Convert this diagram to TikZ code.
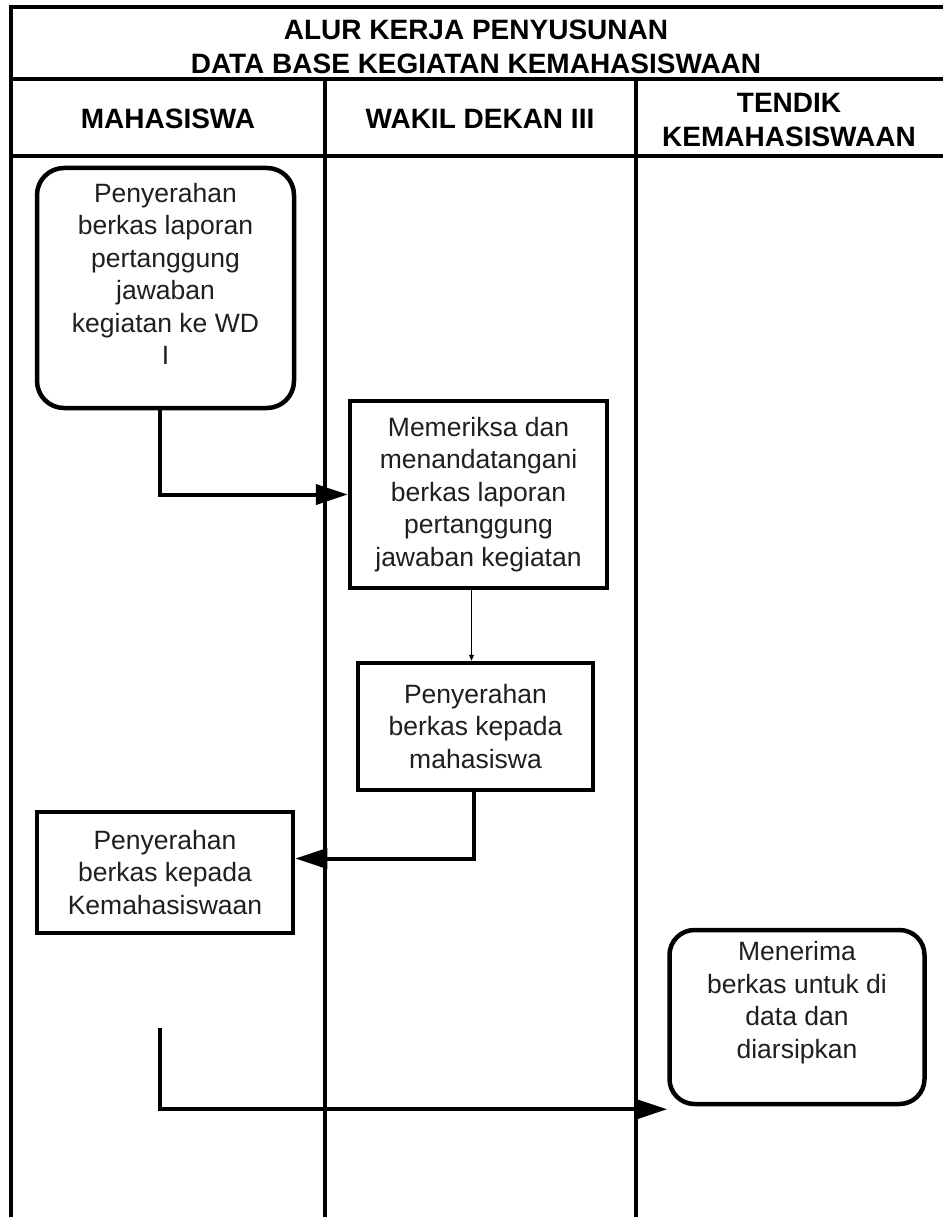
\documentclass[tikz,border=0pt]{standalone}
\usepackage{fontspec}
\setmainfont{Liberation Sans}
\usetikzlibrary{arrows.meta}
\begin{document}
\begin{tikzpicture}[x=1pt,y=-1pt,
  frame/.style={line width=4.5pt},
  boxtext/.style={align=center, font=\fontsize{26.5}{32.5}\selectfont, text=black!88},
  head/.style={align=center, font=\fontsize{28}{34}\selectfont\bfseries},
  sbox/.style={draw, line width=4.5pt, inner sep=0pt, boxtext},
  rbox/.style={draw, line width=4.5pt, inner sep=0pt, rounded corners=27pt},
  conn/.style={line width=4pt, -{Triangle[length=32pt,width=20pt]}},
  thinconn/.style={line width=1pt, -{Triangle[length=6pt,width=5pt]}}
]
\useasboundingbox (0,0) rectangle (942,1217);
\fill[white] (0,0) rectangle (942,1217);
% frame
\draw[frame] (11,7) -- (945,7);
\draw[frame] (11,79) -- (945,79);
\draw[frame] (11,156) -- (945,156);
\draw[frame] (11,5) -- (11,1220);
\draw[frame] (325,79) -- (325,1220);
\draw[frame] (636,79) -- (636,1220);
% headings
\node[head] (title) at (476,46.5) {ALUR KERJA PENYUSUNAN\\DATA BASE KEGIATAN KEMAHASISWAAN};
\node[head] (h1) at (168,119) {MAHASISWA};
\node[head] (h2) at (480,119) {WAKIL DEKAN III};
\node[head] (h3) at (789,120.5) {TENDIK\\KEMAHASISWAAN};
% boxes
\node[rbox, minimum width=257pt, minimum height=240pt] (b1) at (165.5,288) {};
\node[boxtext] (b1t) at ([yshift=14pt]b1.center) {Penyerahan\\berkas laporan\\pertanggung\\jawaban\\kegiatan ke WD\\I};
\node[sbox, minimum width=257pt, minimum height=187pt] (b2) at (478.5,494.5) {Memeriksa dan\\menandatangani\\berkas laporan\\pertanggung\\jawaban kegiatan};
\node[sbox, minimum width=235pt, minimum height=127pt] (b3) at (475.5,726.5) {Penyerahan\\berkas kepada\\mahasiswa};
\node[sbox, minimum width=256pt, minimum height=121pt] (b4) at (165,872.5) {Penyerahan\\berkas kepada\\Kemahasiswaan};
\node[rbox, minimum width=255pt, minimum height=174pt, rounded corners=25pt] (b5) at (797,1017) {};
\node[boxtext] (b5t) at ([yshift=14.5pt]b5.center) {Menerima\\berkas untuk di\\data dan\\diarsipkan};
% connectors
\coordinate (s4) at (160,1028);
\draw[conn] ([xshift=-5.5pt]b1.south) |- (b2.west);
\draw[thinconn] ([xshift=-7pt]b2.south) -- ([xshift=-7pt]b2.south |- b3.north);
\draw[conn] ([xshift=-2pt]b3.south) |- ([yshift=14pt]b4.east);
\draw[conn] (s4) |- ([yshift=-3pt]b5.south west);
\end{tikzpicture}
\end{document}
